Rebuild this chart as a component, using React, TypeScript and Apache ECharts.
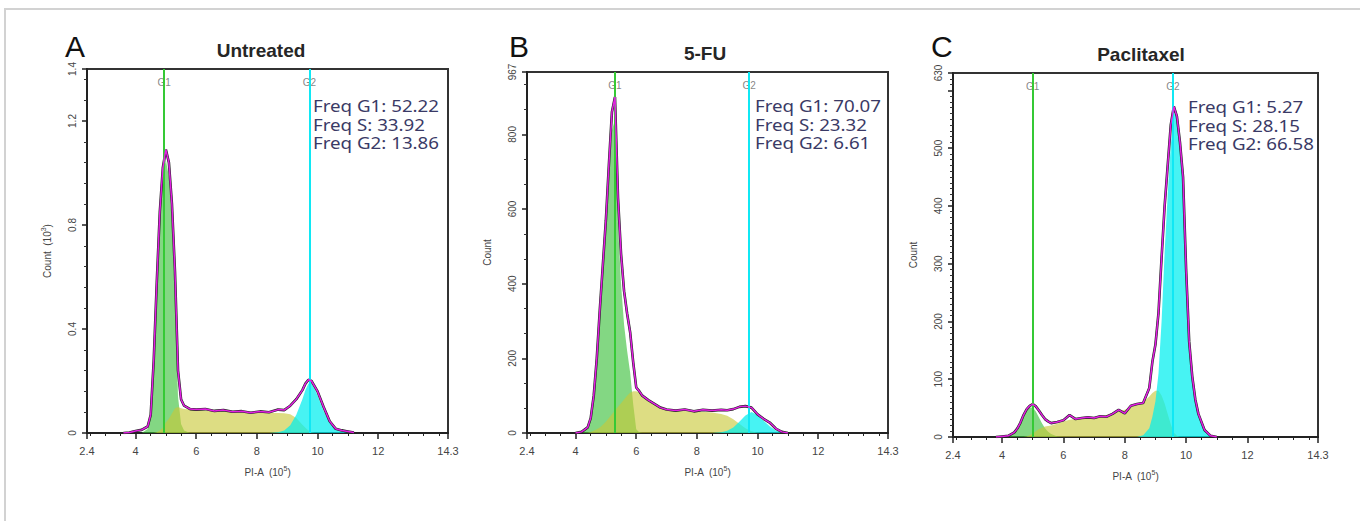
import React, { useEffect, useRef } from 'react';
import * as echarts from 'echarts';

// ---------------- DATA ----------------
// Panel A (Untreated), counts in 10^3
const xA = [3.6, 3.8, 4.0, 4.2, 4.4, 4.5, 4.6, 4.7, 4.8, 4.9, 5.0, 5.1, 5.2, 5.3, 5.4, 5.5, 5.6, 5.8, 6.0, 6.3, 6.6, 6.9, 7.2, 7.5, 7.8, 8.1, 8.4, 8.7, 8.9, 9.1, 9.3, 9.5, 9.6, 9.7, 9.8, 9.9, 10.0, 10.2, 10.4, 10.6, 10.8, 11.0, 11.2];
const totalA = [0, 0.002, 0.008, 0.012, 0.025, 0.07, 0.28, 0.58, 0.85, 1.02, 1.09, 1.04, 0.88, 0.62, 0.24, 0.13, 0.105, 0.092, 0.09, 0.092, 0.085, 0.088, 0.082, 0.084, 0.078, 0.083, 0.08, 0.09, 0.088, 0.105, 0.13, 0.165, 0.19, 0.205, 0.2, 0.18, 0.16, 0.1, 0.045, 0.016, 0.01, 0.006, 0.002];
const g1A = [0, 0, 0, 0, 0.015, 0.06, 0.27, 0.57, 0.835, 1.0, 1.05, 0.985, 0.8, 0.52, 0.14, 0.035, 0.01,
  0, 0, 0, 0, 0, 0, 0, 0, 0, 0, 0, 0, 0, 0, 0, 0, 0, 0, 0, 0, 0, 0, 0, 0, 0, 0];
const sA = [0, 0, 0, 0, 0, 0, 0, 0.003, 0.01, 0.02, 0.04, 0.055, 0.075, 0.095, 0.1, 0.095, 0.092, 0.09, 0.088, 0.087, 0.084, 0.083, 0.081, 0.08, 0.078, 0.078, 0.077, 0.077, 0.076, 0.072, 0.058, 0.032, 0.02, 0.01, 0.003, 0, 0, 0, 0, 0, 0, 0, 0];
const g2A = [0, 0, 0, 0, 0, 0, 0, 0, 0, 0, 0, 0, 0, 0, 0, 0, 0, 0, 0, 0, 0, 0, 0, 0, 0, 0, 0,
  0.003, 0.01, 0.03, 0.07, 0.13, 0.165, 0.19, 0.19, 0.17, 0.145, 0.085, 0.04, 0.015, 0.005, 0.001, 0];
const gatesA = [4.94, 9.73];
const yLabelsA = [0, 0.4, 0.8, 1.2, 1.4];
const freqA = [52.22, 33.92, 13.86];

// Panel B (5-FU), counts
const xB = [4.0, 4.2, 4.4, 4.5, 4.6, 4.7, 4.8, 4.9, 5.0, 5.1, 5.2, 5.3, 5.4, 5.5, 5.6, 5.7, 5.8, 5.9, 6.0, 6.1, 6.2, 6.4, 6.6, 6.8, 7.0, 7.3, 7.6, 7.9, 8.2, 8.5, 8.8, 9.0, 9.2, 9.4, 9.6, 9.8, 10.0, 10.2, 10.4, 10.6, 10.8, 11.0];
const totalB = [0, 3, 15, 40, 100, 200, 330, 450, 570, 720, 860, 900, 630, 480, 380, 320, 270, 190, 122, 112, 100, 88, 78, 68, 63, 60, 63, 58, 62, 60, 62, 61, 64, 70, 72, 68, 50, 38, 28, 12, 3, 0];
const g1B = [0, 3, 14, 37, 94, 190, 315, 428, 540, 680, 810, 840, 560, 400, 290, 220, 162, 78, 10, 2, 0,
  0, 0, 0, 0, 0, 0, 0, 0, 0, 0, 0, 0, 0, 0, 0, 0, 0, 0, 0, 0, 0];
const sB = [0, 0, 1, 3, 6, 10, 15, 22, 30, 40, 50, 60, 70, 80, 90, 100, 108, 112, 112, 108, 100, 86, 76, 67, 62, 59, 59, 57, 57, 55, 51, 46, 37, 25, 13, 5, 1, 0, 0, 0, 0, 0];
const g2B = [0, 0, 0, 0, 0, 0, 0, 0, 0, 0, 0, 0, 0, 0, 0, 0, 0, 0, 0, 0, 0, 0, 0, 0, 0, 0, 0, 0, 0, 0,
  2, 6, 15, 30, 47, 56, 48, 33, 18, 7, 2, 0];
const gatesB = [5.3, 9.72];
const yLabelsB = [0, 200, 400, 600, 800, 967];
const freqB = [70.07, 23.32, 6.61];

// Panel C (Paclitaxel), counts
const xC = [3.8, 4.0, 4.2, 4.4, 4.5, 4.6, 4.7, 4.8, 4.9, 5.0, 5.1, 5.2, 5.3, 5.4, 5.5, 5.6, 5.8, 6.0, 6.2, 6.4, 6.6, 6.8, 7.0, 7.2, 7.4, 7.6, 7.8, 8.0, 8.2, 8.4, 8.6, 8.8, 8.9, 9.0, 9.1, 9.2, 9.3, 9.4, 9.5, 9.6, 9.7, 9.8, 9.9, 10.0, 10.1, 10.2, 10.3, 10.4, 10.6, 10.8, 11.0];
const totalC = [0, 1, 2, 8, 15, 25, 38, 48, 54, 57, 53, 46, 38, 31, 27, 24, 26, 29, 38, 31, 33, 34, 33, 36, 35, 40, 47, 41, 54, 57, 59, 85, 130, 160, 215, 310, 400, 470, 540, 572, 555, 510, 450, 290, 165, 105, 65, 40, 12, 2, 0];
const g1C = [0, 0, 1, 7, 14, 24, 36, 46, 51, 51, 44, 34, 24, 15, 9, 5, 1, 0,
  0, 0, 0, 0, 0, 0, 0, 0, 0, 0, 0, 0, 0, 0, 0, 0, 0, 0, 0, 0, 0, 0, 0, 0, 0, 0, 0, 0, 0, 0, 0, 0, 0];
const sC = [0, 0, 0, 0, 0, 0, 0, 1, 3, 6, 10, 14, 16, 18, 19, 20, 23, 27, 30, 31, 32, 33, 34, 36, 38, 41, 44, 47, 52, 56, 60, 70, 76, 80, 80, 72, 58, 40, 22, 8, 2, 0,
  0, 0, 0, 0, 0, 0, 0, 0, 0];
const g2C = [0, 0, 0, 0, 0, 0, 0, 0, 0, 0, 0, 0, 0, 0, 0, 0, 0, 0, 0, 0, 0, 0, 0, 0, 0, 0, 0, 0, 0, 0,
  3, 15, 35, 62, 110, 200, 320, 420, 505, 562, 552, 508, 449, 288, 164, 104, 64, 39, 11, 2, 0];
const gatesC = [5.0, 9.57];
const yLabelsC = [0, 100, 200, 300, 400, 500, 630];
const freqC = [5.27, 28.15, 66.58];

const xMajor = [2.4, 4, 6, 8, 10, 12, 14.3];
const xMinor = [2.5, 3, 3.5, 4.5, 5, 5.5, 6.5, 7, 7.5, 8.5, 9, 9.5, 10.5, 11, 11.5, 12.5, 13, 13.5, 14];
const freqNames = ['Freq G1', 'Freq S', 'Freq G2'];
const gateNames = ['G1', 'G2'];

// ---------------- LAYOUT / STYLE ----------------
const FONT = '"Liberation Sans", Arial, sans-serif';

const panels = [
  {
    xs: xA, total: totalA, g1: g1A, s: sA, g2: g2A, gates: gatesA, yMax: 1.4, yInterval: 0.4, yMinor: 5,
    yLabels: yLabelsA, yName: 'Count  (10{sup|3})', letter: 'A', title: 'Untreated', freq: freqA,
    box: { left: 87, top: 69, width: 361, height: 364 }, letterX: 65, titleX: 261, titleY: 50, freqX: 313, freqY: 106,
  },
  {
    xs: xB, total: totalB, g1: g1B, s: sB, g2: g2B, gates: gatesB, yMax: 967, yInterval: 200, yMinor: 3,
    yLabels: yLabelsB, yName: 'Count', letter: 'B', title: '5-FU', freq: freqB,
    box: { left: 527, top: 72, width: 361, height: 361 }, letterX: 509, titleX: 705, titleY: 53, freqX: 755, freqY: 106,
  },
  {
    xs: xC, total: totalC, g1: g1C, s: sC, g2: g2C, gates: gatesC, yMax: 630, yInterval: 100, yMinor: 10,
    yLabels: yLabelsC, yName: 'Count', letter: 'C', title: 'Paclitaxel', freq: freqC,
    box: { left: 953, top: 73, width: 365, height: 364 }, letterX: 931, titleX: 1141, titleY: 54, freqX: 1188, freqY: 107,
  },
];

function pairs(xs: number[], ys: number[]) {
  return xs.map((x, i) => [x, ys[i] ?? 0]);
}

function buildOption() {
  const grid: any[] = [];
  const xAxis: any[] = [];
  const yAxis: any[] = [];
  const series: any[] = [];
  const graphic: any[] = [
    {
      type: 'rect', silent: true, z: -10,
      shape: { x: 5, y: 9, width: 1365, height: 530 },
      style: { fill: 'none', stroke: '#d2d2d2', lineWidth: 2 },
    },
  ];

  panels.forEach((p, i) => {
    grid.push({
      ...p.box, show: true, borderColor: '#333', borderWidth: 2, backgroundColor: 'transparent',
      containLabel: false, outerBoundsMode: 'none',
    });
    xAxis.push({
      type: 'value', gridIndex: i, min: 2.4, max: 14.3, position: 'bottom',
      axisLine: { show: true, onZero: false, lineStyle: { color: '#222', width: 2 } },
      axisTick: { show: true, customValues: xMajor, length: 6, lineStyle: { color: '#222', width: 1.5 } },
      axisLabel: { show: true, customValues: xMajor, margin: 12, fontSize: 11, color: '#444', fontFamily: FONT },
      splitLine: { show: false },
      name: 'PI-A  (10{sup|5})', nameLocation: 'middle', nameGap: 32,
      nameTextStyle: {
        fontSize: 10, color: '#444', fontFamily: FONT, lineHeight: 14,
        rich: { sup: { fontSize: 7, verticalAlign: 'top', color: '#444', fontFamily: FONT } },
      },
    });
    xAxis.push({
      type: 'value', gridIndex: i, min: 2.4, max: 14.3, position: 'bottom',
      axisLine: { show: false },
      axisTick: { show: true, customValues: xMinor, length: 3, lineStyle: { color: '#222', width: 1 } },
      axisLabel: { show: false }, splitLine: { show: false },
    });
    yAxis.push({
      type: 'value', gridIndex: i, min: 0, max: p.yMax, interval: p.yInterval,
      axisLine: { show: true, onZero: false, lineStyle: { color: '#222', width: 2 } },
      axisTick: { show: true, length: 5, lineStyle: { color: '#222', width: 1.5 } },
      minorTick: { show: true, splitNumber: p.yMinor, length: 3, lineStyle: { color: '#333', width: 1 } },
      axisLabel: { show: true, customValues: p.yLabels, rotate: 90, margin: 10, fontSize: 10, color: '#444', fontFamily: FONT },
      splitLine: { show: false }, minorSplitLine: { show: false },
      name: p.yName, nameLocation: 'middle', nameGap: 33,
      nameTextStyle: {
        fontSize: 10, color: '#444', fontFamily: FONT, lineHeight: 14,
        rich: { sup: { fontSize: 7, verticalAlign: 'top', color: '#444', fontFamily: FONT } },
      },
    });

    const xi = 2 * i;
    const area = (ys: number[], color: string, z: number) => ({
      type: 'line', xAxisIndex: xi, yAxisIndex: i, data: pairs(p.xs, ys), symbol: 'none', showSymbol: false,
      lineStyle: { width: 0 }, areaStyle: { color, opacity: 1 }, z, silent: true,
    });
    series.push(area(p.g1, 'rgba(55,190,55,0.62)', 2));
    series.push(area(p.s, 'rgba(200,200,55,0.62)', 2));
    series.push(area(p.g2, 'rgba(0,238,238,0.72)', 2));
    series.push({
      type: 'scatter', xAxisIndex: xi, yAxisIndex: i, clip: false, z: 3, silent: true,
      data: p.gates.map((g, k) => [g, p.yMax, gateNames[k]]),
      symbolSize: 1, itemStyle: { color: 'rgba(0,0,0,0)' },
      label: {
        show: true, position: 'bottom', distance: 8, fontSize: 10, color: '#666', fontFamily: FONT,
        formatter: (q: any) => q.value[2],
      },
      markLine: {
        silent: true, symbol: ['none', 'none'], label: { show: false },
        data: [
          { xAxis: p.gates[0], lineStyle: { color: '#35c935', width: 2, type: 'solid' } },
          { xAxis: p.gates[1], lineStyle: { color: '#10e8f4', width: 2, type: 'solid' } },
        ],
      },
    });
    series.push({
      type: 'line', xAxisIndex: xi, yAxisIndex: i, data: pairs(p.xs, p.total), symbol: 'none', showSymbol: false,
      lineStyle: { color: '#222', width: 2.6 }, z: 4, silent: true,
    });
    series.push({
      type: 'line', xAxisIndex: xi, yAxisIndex: i, data: pairs(p.xs, p.total), symbol: 'none', showSymbol: false,
      lineStyle: { color: '#e21fe2', width: 1.5 }, z: 5, silent: true,
    });

    graphic.push({
      type: 'text', x: p.letterX, y: 46, silent: true,
      style: { text: p.letter, font: `normal 30px ${FONT}`, fill: '#111', verticalAlign: 'middle', align: 'left' },
    });
    graphic.push({
      type: 'text', x: p.titleX, y: p.titleY, silent: true,
      style: { text: p.title, font: `bold 19px ${FONT}`, fill: '#262626', verticalAlign: 'middle', align: 'center' },
    });
    p.freq.forEach((v, k) => {
      graphic.push({
        type: 'text', x: p.freqX, y: p.freqY + k * 18.3, scaleX: 1.17, silent: true, z: 10,
        style: {
          text: `${freqNames[k]}: ${v.toFixed(2)}`,
          font: `normal 16px "Noto Sans", sans-serif`, fill: '#3a3a66',
          verticalAlign: 'middle', align: 'left',
        },
      });
    });
  });

  return { animation: false, backgroundColor: '#ffffff', grid, xAxis, yAxis, series, graphic };
}

export default function App() {
  const ref = useRef<HTMLDivElement>(null);
  useEffect(() => {
    document.body.style.margin = '0';
    const chart = echarts.init(ref.current as HTMLDivElement, null, { renderer: 'svg' });
    chart.setOption(buildOption() as any);
    return () => chart.dispose();
  }, []);
  return <div ref={ref} style={{ width: 1360, height: 521 }} />;
}
